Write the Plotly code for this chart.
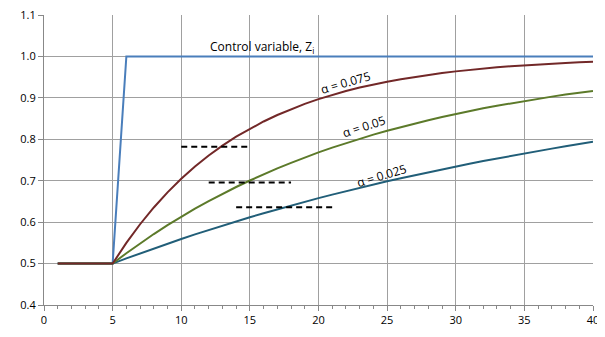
import plotly.graph_objects as go

t = list(range(1, 41))
control = [0.5] * 5 + [1.0] * 35
a075 = [0.5, 0.5, 0.5, 0.5, 0.5, 0.55, 0.595, 0.6355, 0.672, 0.7048, 0.7343, 0.7609, 0.7848, 0.8063,
        0.8257, 0.8431, 0.8588, 0.8729, 0.8856, 0.8971, 0.9074, 0.9166, 0.925, 0.9325, 0.9392,
        0.9453, 0.9508, 0.9557, 0.9601, 0.9641, 0.9677, 0.9709, 0.9738, 0.9764, 0.9788, 0.9809,
        0.9828, 0.9845, 0.9861, 0.9875]
a05 = [0.5, 0.5, 0.5, 0.5, 0.5, 0.525, 0.5488, 0.5713, 0.5927, 0.6131, 0.6325, 0.6508, 0.6683, 0.6849,
       0.7006, 0.7156, 0.7298, 0.7433, 0.7562, 0.7684, 0.7799, 0.7909, 0.8014, 0.8113, 0.8208,
       0.8297, 0.8382, 0.8463, 0.854, 0.8613, 0.8682, 0.8748, 0.8811, 0.887, 0.8927, 0.898,
       0.9031, 0.908, 0.9126, 0.917]
a025 = [0.5, 0.5, 0.5, 0.5, 0.5, 0.5125, 0.5247, 0.5366, 0.5482, 0.5595, 0.5705, 0.5812, 0.5917, 0.6019,
        0.6118, 0.6215, 0.631, 0.6402, 0.6492, 0.658, 0.6665, 0.6749, 0.683, 0.6909, 0.6987,
        0.7062, 0.7135, 0.7207, 0.7277, 0.7345, 0.7411, 0.7476, 0.7539, 0.7601, 0.7661, 0.7719,
        0.7776, 0.7832, 0.7886, 0.7939]

dash_x = [[10, 15], [12, 18], [14, 21]]
dash_y = [0.782, 0.696, 0.636]

y_ticks = [0.4, 0.5, 0.6, 0.7, 0.8, 0.9, 1.0, 1.1]
y_tick_text = ["0.4", "0.5", "0.6", "0.7", "0.8", "0.9", "1.0", "1.1"]

labels = ["Control variable, Z<sub>i</sub>", "α = 0.075", "α = 0.05", "α = 0.025"]
label_x = [15.9, 22.0, 23.3, 24.6]
label_y = [1.024, 0.937, 0.83, 0.713]
label_ang = [0, -16, -18, -17]

fig = go.Figure()
fig.add_trace(go.Scatter(x=t, y=control, mode="lines", line=dict(color="#4A7EBB", width=2)))
fig.add_trace(go.Scatter(x=t, y=a025, mode="lines", line=dict(color="#215E78", width=2)))
fig.add_trace(go.Scatter(x=t, y=a05, mode="lines", line=dict(color="#5C7A2A", width=2)))
fig.add_trace(go.Scatter(x=t, y=a075, mode="lines", line=dict(color="#722828", width=2)))
for xs, yv in zip(dash_x, dash_y):
    fig.add_trace(go.Scatter(x=xs, y=[yv, yv], mode="lines",
                             line=dict(color="black", width=2, dash="6px,4px")))

for txt, lx, ly, ang in zip(labels, label_x, label_y, label_ang):
    fig.add_annotation(x=lx, y=ly, text=txt, showarrow=False, textangle=ang,
                       font=dict(size=12, color="black"))

fig.update_layout(
    width=597, height=329,
    margin=dict(l=36, r=12, t=7, b=32),
    paper_bgcolor="white", plot_bgcolor="white",
    showlegend=False,
    font=dict(family="Open Sans, Liberation Sans, sans-serif", size=11, color="black"),
)
fig.update_xaxes(range=[0, 40], dtick=5, tick0=0, showgrid=True, gridcolor="#A0A0A0", gridwidth=1,
                 ticks="outside", ticklen=5, tickcolor="#888888", showline=True, linecolor="#888888",
                 zeroline=False, minor=dict(dtick=1, ticks="outside", ticklen=3, tickcolor="#888888",
                                            showgrid=False),
                 tickfont=dict(size=11), automargin=True)
fig.update_yaxes(range=[0.4, 1.1002], tickmode="array", tickvals=y_ticks, ticktext=y_tick_text,
                 showgrid=True, gridcolor="#A0A0A0", gridwidth=1, ticks="outside", ticklen=5,
                 tickcolor="#888888", showline=True, linecolor="#888888", zeroline=False,
                 tickfont=dict(size=11), ticklabeloverflow="allow", automargin=False)

fig.write_html("out.html")
